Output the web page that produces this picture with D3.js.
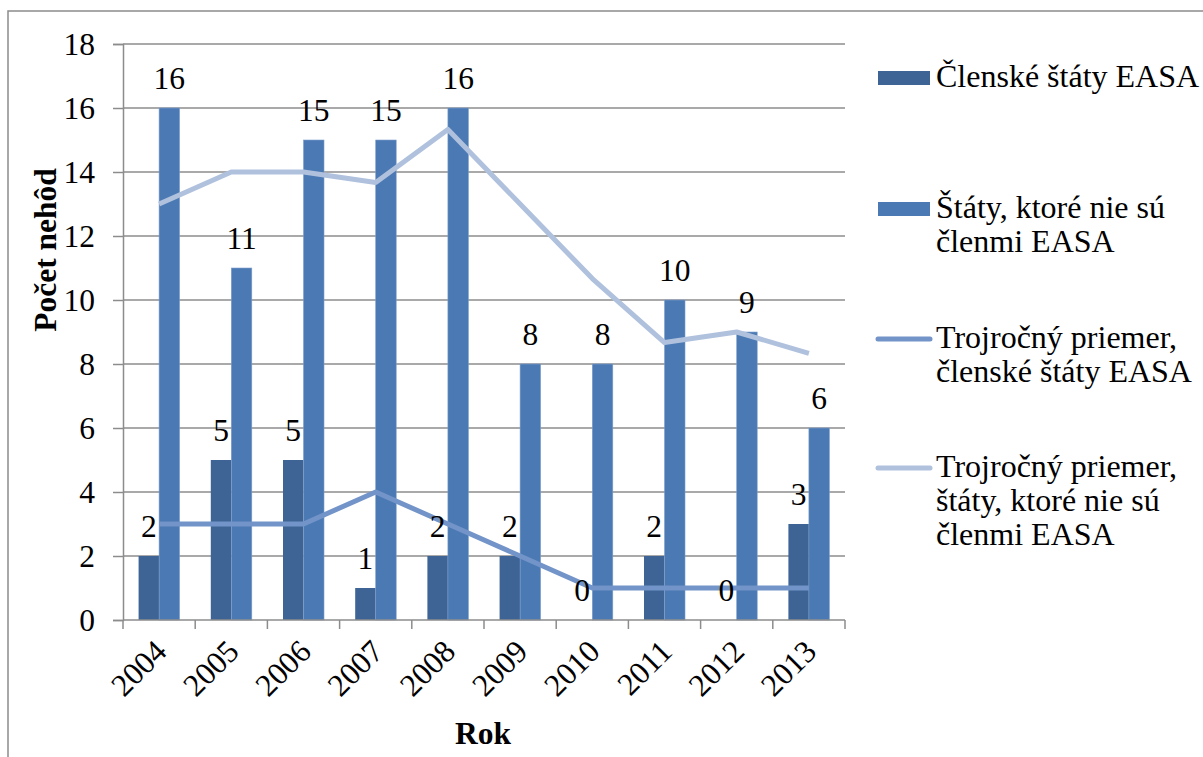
<!DOCTYPE html>
<html><head><meta charset="utf-8">
<script src="https://cdn.jsdelivr.net/npm/d3@7"></script>
<style>
html,body{margin:0;padding:0;background:#fff;}
svg{display:block;}
</style></head>
<body>
<svg id="c" width="1203" height="757"></svg>
<script>
const years = ["2004","2005","2006","2007","2008","2009","2010","2011","2012","2013"];
const members = [2,5,5,1,2,2,0,2,0,3];
const nonMembers = [16,11,15,15,16,8,8,10,9,6];
const avgMembers = [3,3,3,4,3,2,1,1,1,1];
const avgNonMembers = [13,14,14,13.67,15.33,13,10.67,8.67,9,8.33];
const yTicks = [0,2,4,6,8,10,12,14,16,18];
const legendItems = [
  {type:"bar", color:"#3d6494", lines:["Členské štáty EASA"]},
  {type:"bar", color:"#4a79b3", lines:["Štáty, ktoré nie sú","členmi EASA"]},
  {type:"line", color:"#7394c8", lines:["Trojročný priemer,","členské štáty EASA"]},
  {type:"line", color:"#afc1dd", lines:["Trojročný priemer,","štáty, ktoré nie sú","členmi EASA"]}
];
const FONT = "Liberation Serif";
const FS = 31.5;
const FL = 32;
const C = {dark:"#3d6494", light:"#4a79b3", avgM:"#7394c8", avgN:"#afc1dd", grid:"#8c8c8c"};

const svg = d3.select("#c");
const L=123, R=845, T=44, B=620;
const x = d3.scaleBand().domain(years).range([L,R]).padding(0);
const y = d3.scaleLinear().domain([0,18]).range([B,T]);
const bw = x.bandwidth()*0.284;
const cx = d => x(d)+x.bandwidth()/2;

svg.append("path").attr("d","M8,800 L8,11 L1250,11").attr("fill","none").attr("stroke","#8c8c8c").attr("stroke-width",1.5);

svg.append("g").selectAll("line").data(yTicks.filter(d=>d>0)).join("line")
  .attr("x1",L).attr("x2",R).attr("y1",d=>y(d)).attr("y2",d=>y(d))
  .attr("stroke",C.grid).attr("stroke-width",1.5);

svg.append("g").selectAll("rect").data(members).join("rect")
  .attr("x",(d,i)=>cx(years[i])-bw).attr("y",d=>y(d))
  .attr("width",bw).attr("height",d=>B-y(d)).attr("fill",C.dark);
svg.append("g").selectAll("rect").data(nonMembers).join("rect")
  .attr("x",(d,i)=>cx(years[i])).attr("y",d=>y(d))
  .attr("width",bw).attr("height",d=>B-y(d)).attr("fill",C.light)
  .attr("stroke","#7f9fcc").attr("stroke-width",0.6);

const yAxis = d3.axisLeft(y).tickValues(yTicks).tickSize(10).tickPadding(18);
const gy = svg.append("g").attr("transform",`translate(${L},0)`).call(yAxis);
gy.attr("font-family",FONT).attr("font-size",FS);
gy.select(".domain").attr("stroke",C.grid).attr("stroke-width",1.5);
gy.selectAll(".tick line").attr("stroke",C.grid).attr("stroke-width",1.5);
gy.selectAll(".tick text").attr("fill","#000").attr("dy","0.33em").attr("font-family",FONT);

const gx = svg.append("g").attr("transform",`translate(0,${B})`);
gx.append("line").attr("x1",L).attr("x2",R).attr("stroke",C.grid).attr("stroke-width",1.5);
const bounds = years.map(d=>x(d)).concat([R]);
gx.selectAll("line.t").data(bounds).join("line").attr("class","t")
  .attr("x1",d=>d).attr("x2",d=>d).attr("y1",0).attr("y2",9)
  .attr("stroke",C.grid).attr("stroke-width",1.5);
gx.selectAll("text").data(years).join("text")
  .attr("transform",d=>`translate(${cx(d)+2},${26}) rotate(-45)`)
  .attr("text-anchor","end").attr("dy","0.33em")
  .attr("font-family",FONT).attr("font-size",FS).text(d=>d);

const line = d3.line().x((d,i)=>cx(years[i])).y(d=>y(d));
svg.append("path").datum(avgNonMembers).attr("d",line).attr("fill","none")
  .attr("stroke",C.avgN).attr("stroke-width",5).attr("stroke-linejoin","round");
svg.append("path").datum(avgMembers).attr("d",line).attr("fill","none")
  .attr("stroke",C.avgM).attr("stroke-width",5).attr("stroke-linejoin","round");

svg.append("g").selectAll("text").data(members).join("text")
  .attr("x",(d,i)=>cx(years[i])-bw/2).attr("y",d=>y(d)-19)
  .attr("text-anchor","middle").attr("font-family",FONT).attr("font-size",FS).text(d=>d);
svg.append("g").selectAll("text").data(nonMembers).join("text")
  .attr("x",(d,i)=>cx(years[i])+bw/2).attr("y",d=>y(d)-19)
  .attr("text-anchor","middle").attr("font-family",FONT).attr("font-size",FS).text(d=>d);

svg.append("text").attr("transform","translate(56,250) rotate(-90)").attr("text-anchor","middle")
  .attr("font-family",FONT).attr("font-size",FS).attr("font-weight","bold").text("Počet nehôd");
svg.append("text").attr("x",483).attr("y",744).attr("text-anchor","middle")
  .attr("font-family",FONT).attr("font-size",FS).attr("font-weight","bold").text("Rok");

const legTop = [78,209,339,468];
const lg = svg.append("g");
legendItems.forEach((it,i)=>{
  const cy = legTop[i];
  if(it.type==="bar"){
    lg.append("rect").attr("x",878).attr("y",cy-7).attr("width",52).attr("height",14).attr("fill",it.color);
  } else {
    lg.append("line").attr("x1",878).attr("x2",930).attr("y1",cy).attr("y2",cy)
      .attr("stroke",it.color).attr("stroke-width",5).attr("stroke-linecap","round");
  }
  it.lines.forEach((t,j)=>{
    lg.append("text").attr("x",936).attr("y",cy+9+j*34).attr("font-family",FONT).attr("font-size",FL).text(t);
  });
});
</script>
</body></html>
